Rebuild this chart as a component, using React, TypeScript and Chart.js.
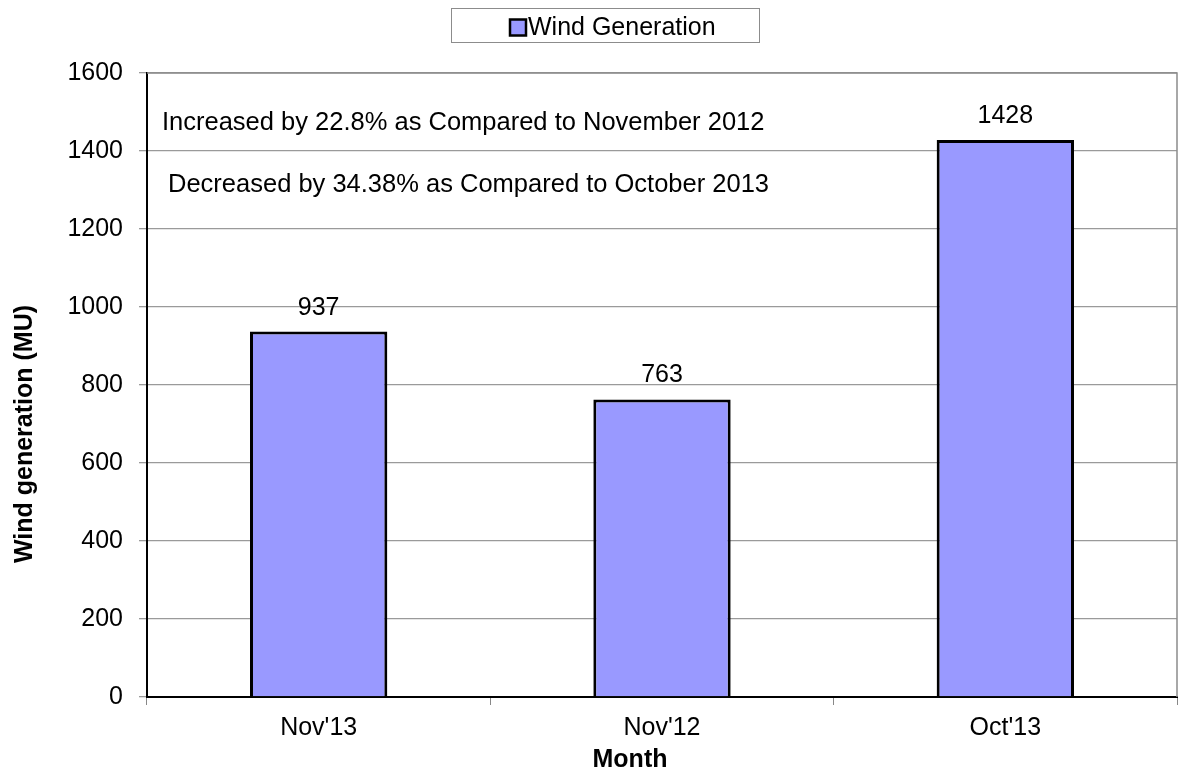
import React, { useEffect, useRef } from "react";
import { Chart, registerables } from "chart.js";

Chart.register(...registerables);

const categories = ["Nov'13", "Nov'12", "Oct'13"];
const windGeneration = [937, 763, 1428];
const seriesLabel = "Wind Generation";
const xTitle = "Month";
const yTitle = "Wind generation (MU)";
const notes = [
  "Increased by 22.8% as Compared to November 2012",
  "Decreased by 34.38% as Compared to October 2013",
];
const FONT = "'Liberation Sans', Arial, sans-serif";
const FS = 25;

const decorPlugin = {
  id: "decor",
  afterDatasetsDraw(chart: any) {
    const { ctx, chartArea } = chart;
    ctx.save();
    // data labels
    const meta = chart.getDatasetMeta(0);
    ctx.fillStyle = "#000";
    ctx.font = `${FS}px ${FONT}`;
    ctx.textAlign = "center";
    ctx.textBaseline = "alphabetic";
    meta.data.forEach((bar: any, i: number) => {
      ctx.fillText(String(windGeneration[i]), bar.x, bar.y - 17);
    });
    // notes
    ctx.textAlign = "left";
    ctx.font = `25.5px ${FONT}`;
    ctx.fillText(notes[0], chartArea.left + 15, chartArea.top + 57);
    ctx.fillText(notes[1], chartArea.left + 21, chartArea.top + 119);
    // top/right border
    ctx.strokeStyle = "#8c8c8c";
    ctx.lineWidth = 1.5;
    ctx.beginPath();
    ctx.moveTo(chartArea.left, chartArea.top);
    ctx.lineTo(chartArea.right, chartArea.top);
    ctx.lineTo(chartArea.right, chartArea.bottom);
    ctx.stroke();
    // axis titles
    ctx.font = `bold ${FS}px ${FONT}`;
    ctx.textAlign = "center";
    ctx.fillText(xTitle, 630, 767);
    ctx.save();
    ctx.translate(32, 434);
    ctx.rotate(-Math.PI / 2);
    ctx.fillText(yTitle, 0, 0);
    ctx.restore();
    // legend
    ctx.fillStyle = "#fff";
    ctx.strokeStyle = "#8c8c8c";
    ctx.lineWidth = 1;
    ctx.fillRect(451.5, 8.5, 308, 34);
    ctx.strokeRect(451.5, 8.5, 308, 34);
    ctx.fillStyle = "#9999FF";
    ctx.fillRect(510, 19.5, 16, 16);
    ctx.strokeStyle = "#000";
    ctx.lineWidth = 2.5;
    ctx.strokeRect(510, 19.5, 16, 16);
    ctx.fillStyle = "#000";
    ctx.font = `${FS}px ${FONT}`;
    ctx.textAlign = "left";
    ctx.fillText(seriesLabel, 528, 35);
    ctx.restore();
  },
};

export default function App() {
  const ref = useRef<HTMLCanvasElement>(null);
  useEffect(() => {
    if (!ref.current) return;
    const chart = new Chart(ref.current, {
      type: "bar",
      data: {
        labels: categories,
        datasets: [
          {
            label: seriesLabel,
            data: windGeneration,
            backgroundColor: "#9999FF",
            borderColor: "#000",
            borderWidth: 3,
            categoryPercentage: 1,
            barPercentage: 0.4,
          },
        ],
      },
      options: {
        animation: false,
        responsive: true,
        maintainAspectRatio: false,
        layout: { padding: { left: 0, right: 3, top: 73, bottom: 0 } },
        plugins: {
          legend: { display: false },
          tooltip: { enabled: false },
        },
        scales: {
          x: {
            afterFit: (s: any) => {
              s.height = 76;
            },
            grid: {
              display: true,
              drawOnChartArea: false,
              drawTicks: true,
              tickLength: 8,
              color: "#888",
              offset: true,
            },
            border: { display: true, color: "#000", width: 2 },
            ticks: { color: "#000", font: { family: FONT, size: FS }, padding: 8 },
            title: { display: false },
          },
          y: {
            min: 0,
            max: 1600,
            afterFit: (s: any) => {
              s.width = 147;
            },
            ticks: {
              stepSize: 200,
              color: "#000",
              font: { family: FONT, size: FS },
              padding: 16,
              callback: (v: any) => String(v),
            },
            grid: { color: "#9a9a9a", lineWidth: 1.3, tickLength: 8, drawTicks: true },
            border: { display: true, color: "#000", width: 2 },
            title: { display: false },
          },
        },
      },
      plugins: [decorPlugin],
    });
    return () => chart.destroy();
  }, []);
  return (
    <div style={{ position: "fixed", left: 0, top: 0, width: 1180, height: 773, background: "#fff" }}>
      <canvas ref={ref} />
    </div>
  );
}
